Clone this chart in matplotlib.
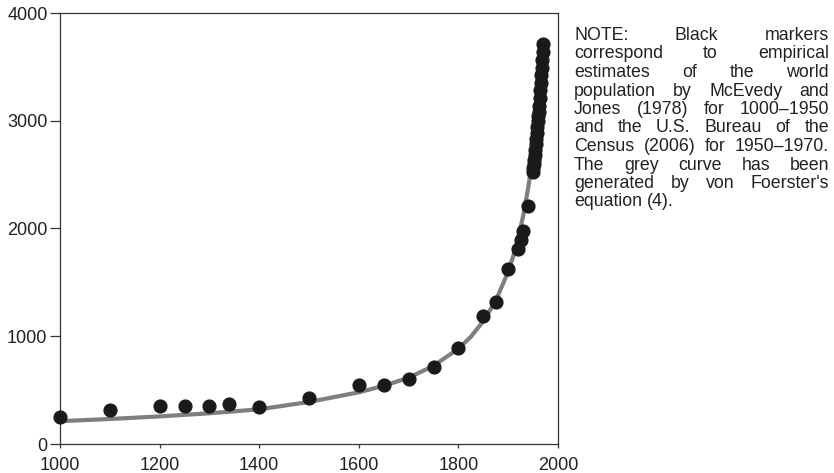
import numpy as np
import matplotlib
matplotlib.use("Agg")
import matplotlib.pyplot as plt

plt.rcParams['font.family'] = ['Liberation Sans', 'DejaVu Sans']

# --- empirical estimates (McEvedy & Jones 1978, 1000-1950) ---
anios_mj = [1000, 1100, 1200, 1250, 1300, 1340, 1400, 1500, 1600, 1650, 1700,
            1750, 1800, 1850, 1875, 1900, 1920, 1925, 1930, 1940, 1950]
pob_mj = [253, 316, 353, 353, 353, 371, 346, 424, 545, 548, 603,
          715, 894, 1188, 1318, 1624, 1807, 1890, 1980, 2212, 2520]

# --- U.S. Bureau of the Census (2006), 1950-1970 ---
anios_census = [1950, 1951, 1952, 1953, 1954, 1955, 1956, 1957, 1958, 1959, 1960,
                1961, 1962, 1963, 1964, 1965, 1966, 1967, 1968, 1969, 1970]
pob_census = [2557, 2594, 2636, 2681, 2729, 2780, 2832, 2890, 2946, 2998, 3042,
              3083, 3140, 3210, 3281, 3350, 3421, 3490, 3562, 3637, 3713]

# --- grey curve ---
anios_curva = [1000, 1100, 1200, 1300, 1400, 1500, 1600, 1650, 1700, 1750, 1800,
               1825, 1850, 1875, 1900, 1910, 1920, 1930, 1940, 1945, 1950, 1955,
               1960, 1965, 1970]
pob_curva = [212, 232, 256, 285, 322, 390, 480, 540, 615, 725, 885,
             995, 1140, 1330, 1600, 1740, 1910, 2117, 2373, 2526, 2701, 2901,
             3133, 3405, 3730]

nota = ["NOTE: Black markers",
        "correspond to empirical",
        "estimates of the world",
        "population by McEvedy and",
        "Jones (1978) for 1000\u20131950",
        "and the U.S. Bureau of the",
        "Census (2006) for 1950\u20131970.",
        "The grey curve has been",
        "generated by von Foerster's",
        "equation (4)."]

W, H = 834, 473
fig = plt.figure(figsize=(W / 100, H / 100), dpi=100)
ax = fig.add_axes([60 / W, (H - 444) / H, (558 - 60) / W, (444 - 13) / H])

ax.plot(anios_curva, pob_curva, color='#7f7f7f', lw=3.0, solid_capstyle='butt',
        zorder=2, clip_on=True)
ax.plot(anios_mj, pob_mj, 'o', color='#1a1a1a', ms=9.2, zorder=3, clip_on=False)
ax.plot(anios_census, pob_census, 'o', color='#1a1a1a', ms=9.2, zorder=3, clip_on=False)

ax.set_xlim(1000, 2000)
ax.set_ylim(0, 4000)
ax.set_xticks([1000, 1200, 1400, 1600, 1800, 2000])
ax.set_yticks([0, 1000, 2000, 3000, 4000])
for s in ax.spines.values():
    s.set_linewidth(0.9)
    s.set_color('#333333')
ax.tick_params(axis='x', length=3, width=0.9, color='#333333', pad=6,
               labelsize=13, labelcolor='#222222')
ax.tick_params(axis='y', length=7, width=0.9, color='#333333', pad=2,
               labelsize=13, labelcolor='#222222')

# --- justified note text ---
renderer = fig.canvas.get_renderer()
x0, x1 = 574, 829
base0, paso = 40, 18.5
fs = 12.8
for i, linea in enumerate(nota):
    y = 1 - (base0 + i * paso) / H
    palabras = linea.split(" ")
    textos = [fig.text(0, y, p, fontsize=fs, color='#222222', va='baseline')
              for p in palabras]
    anchos = [t.get_window_extent(renderer).width for t in textos]
    if i == len(nota) - 1 or len(palabras) == 1:
        esp = fig.text(0, 0, "a a", fontsize=fs).get_window_extent(renderer).width \
            - 2 * fig.text(0, 0, "a", fontsize=fs).get_window_extent(renderer).width
        for t in fig.texts[-2:]:
            t.remove()
    else:
        esp = (x1 - x0 - sum(anchos)) / (len(palabras) - 1)
    x = x0
    for t, a in zip(textos, anchos):
        t.set_x(x / W)
        x += a + esp

fig.savefig("out.png", dpi=100)
